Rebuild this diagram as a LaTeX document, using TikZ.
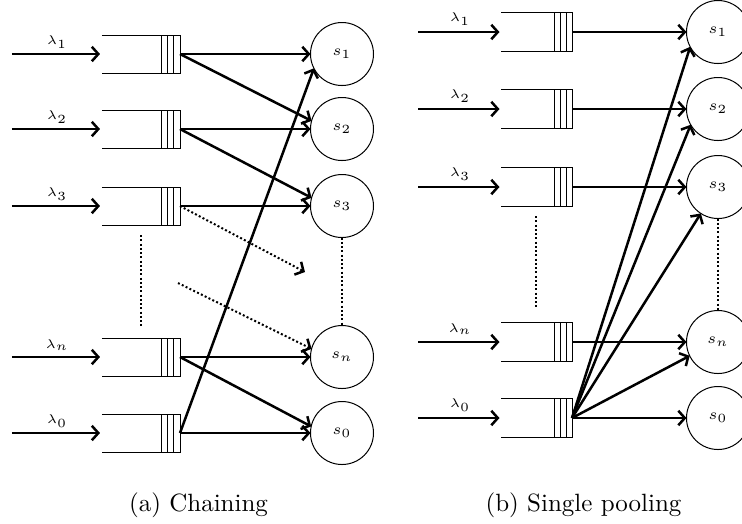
\documentclass[tikz,border=0pt]{standalone}
\usetikzlibrary{arrows.meta}
\newcommand\qlines[2]{%
  \draw[line width=0.4pt] (#1.north west) -- (#1.north east) -- (#1.south east) -- (#1.south west);
  \foreach \d in {#2} {\draw[line width=0.4pt] ([xshift=-\d]#1.north east) -- ([xshift=-\d]#1.south east);}}
\begin{document}
\begin{tikzpicture}[x=0.4pt,y=-0.4pt,
  arrtip/.style={-{Straight Barb[length=2.6pt,width=5.8pt,line width=1pt]}},
  arr/.style={line width=1pt,arrtip},
  dotarr/.style={line width=0.8pt,dash pattern=on 0.8pt off 0.9pt,arrtip},
  vdots/.style={line width=0.8pt,dash pattern=on 0.8pt off 0.9pt},
  server/.style={circle,draw,line width=0.4pt,minimum size=25.2pt,inner sep=0pt,outer sep=0pt,font=\fontsize{6.5}{7}\selectfont},
  qa/.style={minimum width=31.2pt,minimum height=15.2pt,inner sep=0pt,outer sep=0pt},
  qb/.style={minimum width=28.4pt,minimum height=15.6pt,inner sep=0pt,outer sep=0pt},
  lab/.style={font=\fontsize{5}{6}\selectfont,inner sep=0pt},
  captext/.style={font=\normalsize,anchor=base}]
\useasboundingbox (0,0) rectangle (742,523);

% ---------- (a) Chaining ----------
\foreach \n/\y in {1/54,2/129,3/206,n/357,0/433}{
  \node[qa] (qa\n) at (141,\y) {};
  \qlines{qa\n}{2.8pt,5.2pt,7.6pt}
  \coordinate (ia\n) at (12,\y);
  \node[lab] (la\n) at (57,\y-12) {$\lambda_{\n}$};
  \draw[arr,shorten >=0.8pt] (ia\n) -- (qa\n.west);
  \node[server] (sa\n) at (342,\y) {$s_{\n}$};
}
\draw[arr] (qa1.east) -- (sa1.west);
\draw[arr] (qa1.east) -- (sa2.165);
\draw[arr] (qa2.east) -- (sa2.west);
\draw[arr] (qa2.east) -- (sa3.165);
\draw[arr] (qa3.east) -- (sa3.west);
\coordinate (da1) at (305,272);
\draw[dotarr] (qa3.east) -- (da1);
\coordinate (da2) at (178,283);
\draw[dotarr] (da2) -- (san.165);
\draw[arr] (qan.east) -- (san.west);
\draw[arr] (qan.east) -- (sa0.168);
\draw[arr] (qa0.east) -- (sa0.west);
\draw[arr] (qa0.east) -- (sa1.207);
\coordinate (va1) at (141,235);
\coordinate (va2) at (141,326);
\draw[vdots] (va1) -- (va2);
\draw[vdots] (sa3.south) -- (san.north);
\node[captext] (capa) at (198.5,511) {(a) Chaining};

% ---------- (b) Single pooling ----------
\foreach \n/\y in {1/32,2/109,3/187,n/342,0/418}{
  \node[qb] (qb\n) at (536.5,\y) {};
  \qlines{qb\n}{2.4pt,4.8pt,7.2pt}
  \coordinate (ib\n) at (418,\y);
  \node[lab] (lb\n) at (460,\y-13) {$\lambda_{\n}$};
  \draw[arr,shorten >=0.6pt] (ib\n) -- (qb\n.west);
  \node[server] (sb\n) at (718,\y) {$s_{\n}$};
  \draw[arr] (qb\n.east) -- (sb\n.west);
}
\draw[arr] (qb0.east) -- (sb1.208);
\draw[arr] (qb0.east) -- (sb2.210);
\draw[arr] (qb0.east) -- (sb3.237);
\draw[arr] (qb0.east) -- (sbn.206);
\coordinate (vb1) at (536,216);
\coordinate (vb2) at (536,308);
\draw[vdots] (vb1) -- (vb2);
\draw[vdots] (sb3.south) -- (sbn.north);
\node[captext] (capb) at (583.5,511) {(b) Single pooling};
\end{tikzpicture}
\end{document}
